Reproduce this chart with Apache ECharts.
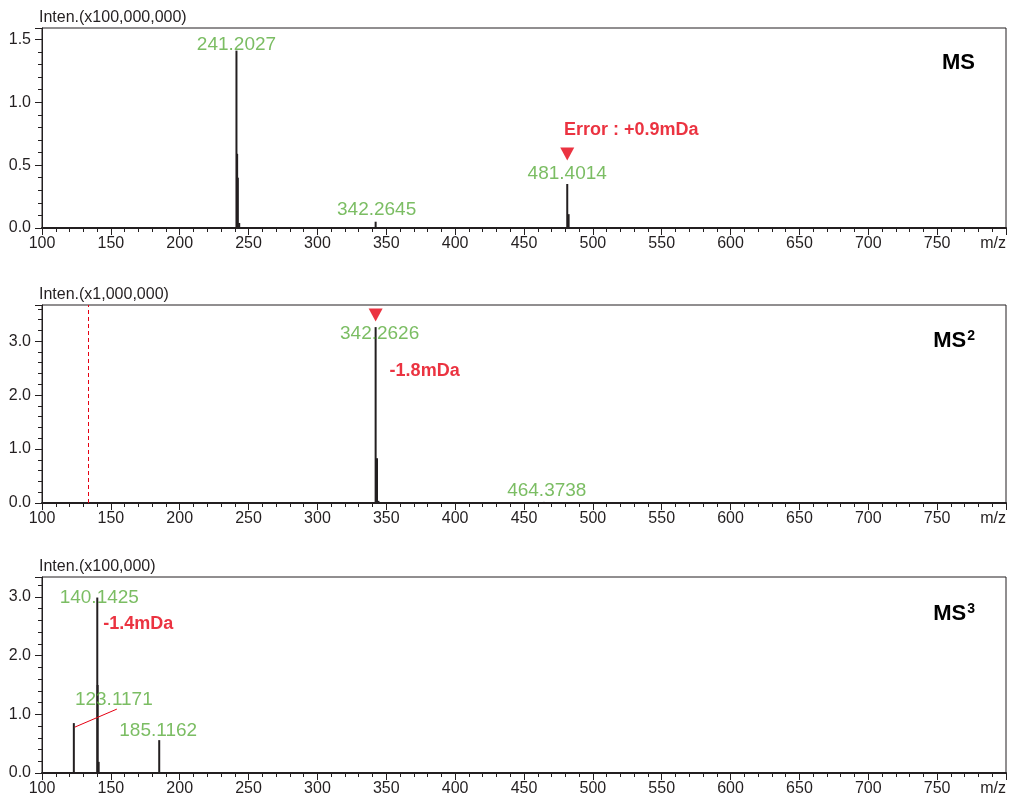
<!DOCTYPE html>
<html>
<head>
<meta charset="utf-8">
<script src="https://cdn.jsdelivr.net/npm/echarts@6/dist/echarts.min.js"></script>
<style>
  html, body { margin: 0; padding: 0; background: #fff; }
  #chart { width: 1009px; height: 802px; }
</style>
</head>
<body>
<div id="chart"></div>
<script>
// x axis (m/z), shared by all three spectra
const mzMin = 100, mzMax = 800, mzStep = 50;

// MS  (x100,000,000)
const ms1Mz  = [241.2027, 241.7, 242.2, 243.2, 342.2645, 481.4014, 482.4];
const ms1Int = [1.41, 0.59, 0.40, 0.04, 0.05, 0.35, 0.11];
const ms1Tags = [241.2027, 342.2645, 481.4014];
const ms1Error = { mz: 481.4014, text: 'Error : +0.9mDa' };

// MS2 (x1,000,000)
const ms2Mz  = [342.2626, 343.27, 344.3, 464.3738];
const ms2Int = [3.26, 0.83, 0.04, 0.02];
const ms2Tags = [342.2626, 464.3738];
const ms2Error = { mz: 342.2626, text: '-1.8mDa' };
const ms2Cut = 133.3;

// MS3 (x100,000)
const ms3Mz  = [123.1171, 140.1425, 140.4, 141.15, 185.1162];
const ms3Int = [0.85, 2.99, 1.5, 0.19, 0.56];
const ms3Tags = [140.1425, 123.1171, 185.1162];
const ms3Error = { mz: 140.1425, text: '-1.4mDa' };

const ink = '#231f20', green = '#5aac3c', red = '#e60012';
const font = 'Liberation Sans, Arial, sans-serif';

// where each tag sits relative to its peak top (px)
const tagOffset = {
  '241.2027': [0, -6], '342.2645': [1, -12], '481.4014': [0, -10],
  '342.2626': [4, 7], '464.3738': [3, -11],
  '140.1425': [2, 0], '123.1171': [40, -23], '185.1162': [-1, -9]
};

const panels = [
  { mz: ms1Mz, it: ms1Int, tags: ms1Tags, err: ms1Error, errOff: [64, -54], tri: -30,
    top: 28, height: 200, ymax: 1.59, step: 0.5, name: 'Inten.(x100,000,000)' },
  { mz: ms2Mz, it: ms2Int, tags: ms2Tags, err: ms2Error, errOff: [49, 44], tri: -12,
    top: 305, height: 198, ymax: 3.67, step: 1, name: 'Inten.(x1,000,000)', cut: ms2Cut },
  { mz: ms3Mz, it: ms3Int, tags: ms3Tags, err: ms3Error, errOff: [41, 26],
    top: 577, height: 196, ymax: 3.34, step: 1, name: 'Inten.(x100,000)', leader: 123.1171 }
];

const grid = [], xAxis = [], yAxis = [], series = [];

panels.forEach((p, k) => {
  grid.push({ left: 42, right: 3, top: p.top, height: p.height, show: true,
    borderColor: ink, borderWidth: 1, backgroundColor: 'transparent' });
  xAxis.push({
    gridIndex: k, type: 'value', min: mzMin, max: mzMax, interval: mzStep,
    axisLine: { show: true, onZero: false, lineStyle: { color: ink, width: 2 } },
    axisTick: { show: true, length: 7, lineStyle: { color: ink } },
    minorTick: { show: true, splitNumber: 5, length: 4, lineStyle: { color: ink } },
    splitLine: { show: false },
    axisLabel: { color: ink, fontSize: 16, fontFamily: font, margin: 8,
      alignMaxLabel: 'right',
      formatter: v => v === mzMax ? 'm/z' : String(v) }
  });
  yAxis.push({
    gridIndex: k, type: 'value', min: 0, max: p.ymax, interval: p.step,
    name: p.name, nameLocation: 'end', nameGap: 2,
    nameTextStyle: { color: ink, fontSize: 16, fontFamily: font, align: 'left', verticalAlign: 'bottom',
      padding: [0, 0, 0, -3] },
    axisLine: { show: true, lineStyle: { color: ink } },
    axisTick: { show: true, length: 7, lineStyle: { color: ink } },
    minorTick: { show: true, splitNumber: 5, length: 4, lineStyle: { color: ink } },
    splitLine: { show: false },
    axisLabel: { color: ink, fontSize: 16, fontFamily: font, margin: 11,
      formatter: v => Math.abs(v / p.step - Math.round(v / p.step)) < 1e-6 ? v.toFixed(1) : '' }
  });

  const intOf = m => p.it[p.mz.indexOf(m)];

  // peak sticks
  series.push({
    type: 'custom', xAxisIndex: k, yAxisIndex: k, silent: true,
    data: p.mz.map((m, i) => [m, p.it[i]]),
    renderItem: (params, api) => {
      const a = api.coord([api.value(0), 0]);
      const b = api.coord([api.value(0), api.value(1)]);
      return { type: 'line', shape: { x1: a[0], y1: a[1], x2: b[0], y2: b[1] },
        style: { stroke: ink, lineWidth: 2 } };
    },
    markLine: p.cut ? {
      silent: true, symbol: 'none', label: { show: false },
      lineStyle: { color: red, type: [4, 3], width: 1 },
      data: [{ xAxis: p.cut }]
    } : undefined
  });

  // m/z tags (green)
  series.push({
    type: 'scatter', xAxisIndex: k, yAxisIndex: k, silent: true,
    symbolSize: 1, itemStyle: { color: 'transparent' },
    data: p.tags.map(m => ({
      value: [m, intOf(m)],
      label: { show: true, position: 'inside', formatter: m.toFixed(4),
        offset: tagOffset[m.toFixed(4)], color: green, fontSize: 19, fontFamily: font }
    }))
  });

  // error text (red bold)
  series.push({
    type: 'scatter', xAxisIndex: k, yAxisIndex: k, silent: true,
    symbolSize: 1, itemStyle: { color: 'transparent' },
    data: [{ value: [p.err.mz, intOf(p.err.mz)],
      label: { show: true, position: 'inside', formatter: p.err.text, offset: p.errOff,
        color: red, fontSize: 18, fontWeight: 'bold', fontFamily: font } }]
  });

  // precursor triangle
  if (p.tri !== undefined) {
    series.push({
      type: 'scatter', xAxisIndex: k, yAxisIndex: k, silent: true,
      symbol: 'triangle', symbolRotate: 180, symbolSize: [14, 13], symbolOffset: [0, p.tri],
      itemStyle: { color: red },
      data: [[p.err.mz, intOf(p.err.mz)]]
    });
  }

  // leader line from a peak to its tag
  if (p.leader !== undefined) {
    series.push({
      type: 'custom', xAxisIndex: k, yAxisIndex: k, silent: true,
      data: [[p.leader, intOf(p.leader)]],
      renderItem: (params, api) => {
        const c = api.coord([api.value(0), api.value(1)]);
        return { type: 'line', shape: { x1: c[0] + 1, y1: c[1] + 4, x2: c[0] + 43, y2: c[1] - 14 },
          style: { stroke: red, lineWidth: 1 } };
      }
    });
  }
});

const titleStyle = { color: '#000', fontSize: 22, fontWeight: 'bold', fontFamily: font,
  rich: { s: { fontSize: 14, fontWeight: 'bold', fontFamily: font, verticalAlign: 'top', padding: [0, 0, 10, 1] } } };

const chart = echarts.init(document.getElementById('chart'), null, { renderer: 'canvas' });
chart.setOption({
  animation: false,
  backgroundColor: '#fff',
  title: [
    { text: 'MS', right: 29, top: 47, textStyle: titleStyle },
    { text: 'MS{s|2}', right: 29, top: 324, textStyle: titleStyle },
    { text: 'MS{s|3}', right: 29, top: 597, textStyle: titleStyle }
  ],
  grid, xAxis, yAxis, series
});
</script>
</body>
</html>
